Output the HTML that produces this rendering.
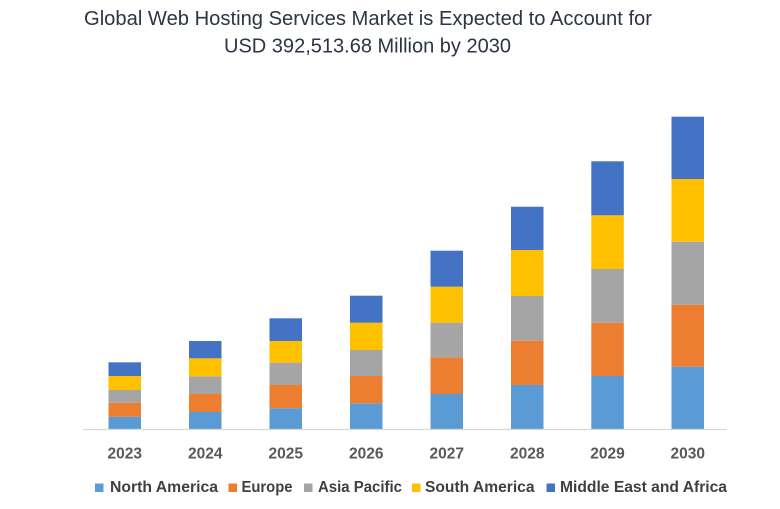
<!DOCTYPE html>
<html>
<head>
<meta charset="utf-8">
<style>
  html, body { margin:0; padding:0; background:#ffffff; }
  svg { display:block; }
  text { font-family: "Liberation Sans", "DejaVu Sans", sans-serif; }
</style>
</head>
<body>
<svg width="780" height="509" viewBox="0 0 780 509" xmlns="http://www.w3.org/2000/svg">
  <rect width="780" height="509" fill="#ffffff"/>

  <!-- Title -->
  <text x="84" y="25" font-size="20" fill="#2b3544" textLength="568" lengthAdjust="spacingAndGlyphs">Global Web Hosting Services Market is Expected to Account for</text>
  <text x="224" y="52.5" font-size="20" fill="#2b3544" textLength="287" lengthAdjust="spacingAndGlyphs">USD 392,513.68 Million by 2030</text>

  <!-- Bars: segments NA, EU, AP, SA, MEA -->
  <g>
    <!-- 2023 -->
    <rect x="108.5" y="416.7" width="32.5" height="12.8" fill="#5b9bd5"/>
    <rect x="108.5" y="402.7" width="32.5" height="14" fill="#ed7d31"/>
    <rect x="108.5" y="390" width="32.5" height="12.7" fill="#a5a5a5"/>
    <rect x="108.5" y="376" width="32.5" height="14" fill="#ffc000"/>
    <rect x="108.5" y="362.3" width="32.5" height="13.7" fill="#4472c4"/>
    <!-- 2024 -->
    <rect x="189" y="412" width="32.5" height="17.5" fill="#5b9bd5"/>
    <rect x="189" y="394" width="32.5" height="18" fill="#ed7d31"/>
    <rect x="189" y="376.3" width="32.5" height="17.7" fill="#a5a5a5"/>
    <rect x="189" y="358.3" width="32.5" height="18" fill="#ffc000"/>
    <rect x="189" y="341" width="32.5" height="17.3" fill="#4472c4"/>
    <!-- 2025 -->
    <rect x="269.5" y="408.3" width="32.5" height="21.2" fill="#5b9bd5"/>
    <rect x="269.5" y="385" width="32.5" height="23.3" fill="#ed7d31"/>
    <rect x="269.5" y="362.7" width="32.5" height="22.3" fill="#a5a5a5"/>
    <rect x="269.5" y="341" width="32.5" height="21.7" fill="#ffc000"/>
    <rect x="269.5" y="318.3" width="32.5" height="22.7" fill="#4472c4"/>
    <!-- 2026 -->
    <rect x="350" y="403.3" width="32.5" height="26.2" fill="#5b9bd5"/>
    <rect x="350" y="376" width="32.5" height="27.3" fill="#ed7d31"/>
    <rect x="350" y="350" width="32.5" height="26" fill="#a5a5a5"/>
    <rect x="350" y="322.7" width="32.5" height="27.3" fill="#ffc000"/>
    <rect x="350" y="295.7" width="32.5" height="27" fill="#4472c4"/>
    <!-- 2027 -->
    <rect x="430.5" y="394" width="32.5" height="35.5" fill="#5b9bd5"/>
    <rect x="430.5" y="357.3" width="32.5" height="36.7" fill="#ed7d31"/>
    <rect x="430.5" y="322.7" width="32.5" height="34.6" fill="#a5a5a5"/>
    <rect x="430.5" y="286.7" width="32.5" height="36" fill="#ffc000"/>
    <rect x="430.5" y="250.7" width="32.5" height="36" fill="#4472c4"/>
    <!-- 2028 -->
    <rect x="511" y="385" width="32.5" height="44.5" fill="#5b9bd5"/>
    <rect x="511" y="340.7" width="32.5" height="44.3" fill="#ed7d31"/>
    <rect x="511" y="296" width="32.5" height="44.7" fill="#a5a5a5"/>
    <rect x="511" y="250" width="32.5" height="46" fill="#ffc000"/>
    <rect x="511" y="206.7" width="32.5" height="43.3" fill="#4472c4"/>
    <!-- 2029 -->
    <rect x="591.3" y="376" width="32.5" height="53.5" fill="#5b9bd5"/>
    <rect x="591.3" y="322.7" width="32.5" height="53.3" fill="#ed7d31"/>
    <rect x="591.3" y="269" width="32.5" height="53.7" fill="#a5a5a5"/>
    <rect x="591.3" y="215.3" width="32.5" height="53.7" fill="#ffc000"/>
    <rect x="591.3" y="161.3" width="32.5" height="54" fill="#4472c4"/>
    <!-- 2030 -->
    <rect x="671.5" y="366.7" width="32.5" height="62.8" fill="#5b9bd5"/>
    <rect x="671.5" y="304.7" width="32.5" height="62" fill="#ed7d31"/>
    <rect x="671.5" y="241.7" width="32.5" height="63" fill="#a5a5a5"/>
    <rect x="671.5" y="179" width="32.5" height="62.7" fill="#ffc000"/>
    <rect x="671.5" y="116.7" width="32.5" height="62.3" fill="#4472c4"/>
  </g>

  <!-- Axis line -->
  <line x1="83" y1="429.5" x2="727" y2="429.5" stroke="#d9d9d9" stroke-width="1.2"/>

  <!-- Category labels -->
  <g font-size="15.5" font-weight="bold" fill="#595959" text-anchor="middle">
    <text x="124.7" y="458.3">2023</text>
    <text x="205.2" y="458.3">2024</text>
    <text x="285.8" y="458.3">2025</text>
    <text x="366.2" y="458.3">2026</text>
    <text x="446.7" y="458.3">2027</text>
    <text x="527.2" y="458.3">2028</text>
    <text x="607.5" y="458.3">2029</text>
    <text x="687.8" y="458.3">2030</text>
  </g>

  <!-- Legend -->
  <g font-size="15.5" font-weight="bold" fill="#404040">
    <rect x="95" y="483.5" width="8.5" height="8.5" fill="#5b9bd5"/>
    <text x="110" y="492" textLength="108" lengthAdjust="spacingAndGlyphs">North America</text>
    <rect x="228.5" y="483.5" width="8.5" height="8.5" fill="#ed7d31"/>
    <text x="241.5" y="492" textLength="51" lengthAdjust="spacingAndGlyphs">Europe</text>
    <rect x="304" y="483.5" width="8.5" height="8.5" fill="#a5a5a5"/>
    <text x="318" y="492" textLength="84" lengthAdjust="spacingAndGlyphs">Asia Pacific</text>
    <rect x="412" y="483.5" width="8.5" height="8.5" fill="#ffc000"/>
    <text x="425" y="492" textLength="109.5" lengthAdjust="spacingAndGlyphs">South America</text>
    <rect x="546.5" y="483.5" width="8.5" height="8.5" fill="#4472c4"/>
    <text x="560" y="492" textLength="167" lengthAdjust="spacingAndGlyphs">Middle East and Africa</text>
  </g>
</svg>
</body>
</html>
